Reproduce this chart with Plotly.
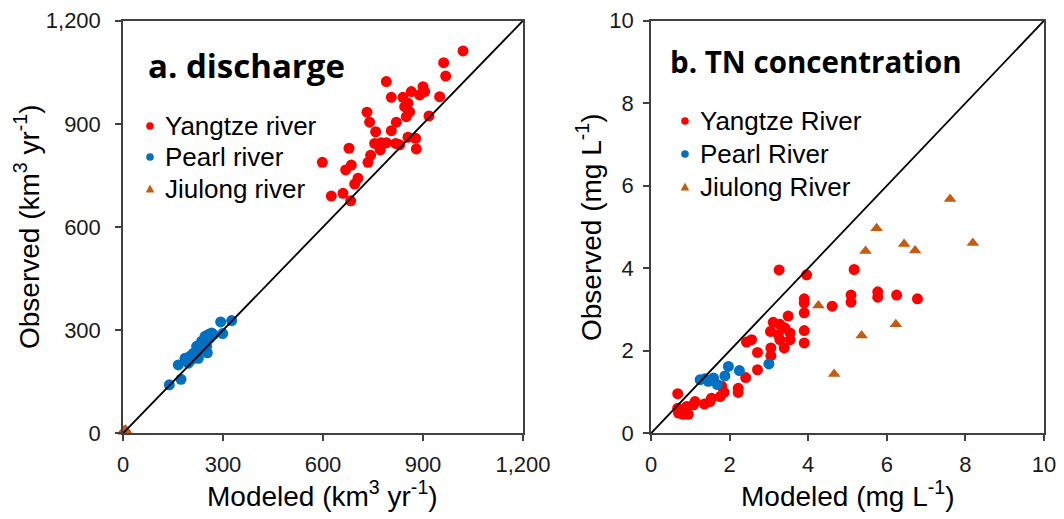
import plotly.graph_objects as go

W, H = 1064, 519

# ---------------- Data ----------------
# Panel a: discharge (km3/yr), modeled vs observed
yangtze_q_mod = [1020, 962, 968, 790, 900, 905, 890, 865, 950, 805, 840, 855, 860, 850, 918,
                 732, 740, 820, 758, 805, 755, 790, 818, 830, 855, 878, 880, 772, 743, 735,
                 678, 598, 685, 668, 705, 695, 660, 625, 683, 845, 775]
yangtze_q_obs = [1112, 1078, 1039, 1023, 1008, 994, 984, 994, 979, 977, 977, 960, 935, 921, 923,
                 934, 905, 905, 877, 880, 843, 845, 843, 839, 861, 858, 827, 824, 809, 788,
                 829, 788, 780, 766, 742, 725, 698, 690, 676, 950, 845]
pearl_q_mod = [139, 174, 166, 186, 196, 211, 226, 221, 236, 246, 256, 266, 253, 251, 293, 326,
               299, 201, 231, 241, 261, 206, 271]
pearl_q_obs = [141, 157, 199, 218, 204, 233, 218, 253, 268, 282, 287, 292, 234, 253, 324, 328,
               290, 224, 244, 258, 277, 214, 287]
jiulong_q_mod = [3, 5, 8, 2, 10]
jiulong_q_obs = [10, 5, 12, 3, 8]

# Panel b: TN concentration (mg/L)
yangtze_tn_mod = [3.26, 3.96, 5.17, 3.90, 3.90, 3.90, 3.90, 3.90, 4.61, 5.09, 5.09, 5.77, 5.77,
                  6.25, 6.78, 3.49, 3.11, 3.28, 3.41, 3.54, 3.04, 3.24, 3.28, 3.54, 3.39, 3.05,
                  3.05, 2.43, 2.56, 2.71, 2.71, 2.41, 2.22, 2.22, 1.80, 1.86, 1.76, 1.54, 1.50,
                  1.36, 1.12, 1.08, 0.91, 0.74, 0.70, 0.82, 0.95, 0.68, 0.68]
yangtze_tn_obs = [3.96, 3.84, 3.97, 3.26, 3.16, 2.92, 2.49, 2.19, 3.08, 3.35, 3.18, 3.43, 3.30,
                  3.35, 3.26, 2.84, 2.69, 2.64, 2.55, 2.43, 2.47, 2.39, 2.27, 2.27, 2.07, 2.07,
                  1.88, 2.21, 2.27, 1.96, 1.54, 1.35, 1.09, 0.99, 1.14, 0.99, 0.89, 0.85, 0.77,
                  0.71, 0.77, 0.69, 0.65, 0.57, 0.49, 0.46, 0.46, 0.96, 0.61]
pearl_tn_mod = [1.25, 1.37, 1.59, 1.69, 1.88, 1.97, 2.25, 3.00, 1.46]
pearl_tn_obs = [1.30, 1.32, 1.34, 1.18, 1.39, 1.62, 1.52, 1.68, 1.26]
jiulong_tn_mod = [4.26, 4.66, 5.36, 6.23, 5.46, 6.72, 7.61, 5.74, 6.44, 8.19]
jiulong_tn_obs = [3.10, 1.44, 2.37, 2.64, 4.42, 4.43, 5.68, 4.97, 4.59, 4.61]

q_range = [0, 1200]
q_ticks = [0, 300, 600, 900, 1200]
q_ticktext = ["0", "300", "600", "900", "1,200"]
tn_range = [0, 10]
tn_ticks = [0, 2, 4, 6, 8, 10]

RED = "#FF0000"
BLUE = "#0070C0"
BROWN = "#C55A11"
AXC = "#404040"
TXT = "#1a1a1a"
FONT = "Liberation Sans, Arial, sans-serif"

fig = go.Figure()

def add_series(x, y, xa, ya, color, symbol, size):
    fig.add_trace(go.Scatter(x=x, y=y, xaxis=xa, yaxis=ya, mode="markers",
                             marker=dict(color=color, size=size, symbol=symbol, line=dict(width=0)),
                             cliponaxis=False, showlegend=False, hoverinfo="x+y"))

# Panel a
add_series(yangtze_q_mod, yangtze_q_obs, "x", "y", RED, "circle", 11)
add_series(pearl_q_mod, pearl_q_obs, "x", "y", BLUE, "circle", 11)
add_series(jiulong_q_mod, jiulong_q_obs, "x", "y", BROWN, "triangle-up", 10)
fig.add_trace(go.Scatter(x=q_range, y=q_range, xaxis="x", yaxis="y", mode="lines",
                         line=dict(color="black", width=1.8), showlegend=False, hoverinfo="skip"))
# Panel b
add_series(yangtze_tn_mod, yangtze_tn_obs, "x2", "y2", RED, "circle", 11)
add_series(pearl_tn_mod, pearl_tn_obs, "x2", "y2", BLUE, "circle", 11)
add_series(jiulong_tn_mod, jiulong_tn_obs, "x2", "y2", BROWN, "triangle-up", 11)
fig.add_trace(go.Scatter(x=tn_range, y=tn_range, xaxis="x2", yaxis="y2", mode="lines",
                         line=dict(color="black", width=1.8), showlegend=False, hoverinfo="skip"))

def px(xp):
    return xp / W

def py(yp):
    return 1 - yp / H

axis_common = dict(showgrid=False, zeroline=False, showline=True, linecolor=AXC, linewidth=1.5,
                   mirror=True, ticks="outside", ticklen=6, tickwidth=1.5, tickcolor=AXC,
                   automargin=False,
                   tickfont=dict(family=FONT, size=22, color=TXT))

fig.update_layout(
    template="none",
    width=W, height=H, margin=dict(l=0, r=0, t=0, b=0, pad=0),
    paper_bgcolor="white", plot_bgcolor="white", showlegend=False,
    xaxis=dict(domain=[px(123), px(523)], range=q_range, tickvals=q_ticks, ticktext=q_ticktext,
               anchor="y", ticklabelstandoff=5, **axis_common),
    yaxis=dict(domain=[py(433.3), py(20.7)], range=q_range, tickvals=q_ticks, ticktext=q_ticktext,
               anchor="x", ticklabelstandoff=10, **axis_common),
    xaxis2=dict(domain=[px(651), px(1044)], range=tn_range, tickvals=tn_ticks,
                anchor="y2", ticklabelstandoff=5, **axis_common),
    yaxis2=dict(domain=[py(433.3), py(20.7)], range=tn_range, tickvals=tn_ticks,
                anchor="x2", ticklabelstandoff=5, **axis_common),
)

ann = []
def text(x, y, s, size, bold=False, angle=0, xanchor="center", family=FONT):
    ann.append(dict(x=px(x), y=py(y), xref="paper", yref="paper", text=s, showarrow=False,
                    textangle=angle, xanchor=xanchor, yanchor="middle",
                    font=dict(family=family, size=size, color="black")))

# Axis titles
text(322, 494, "Modeled (km<sup>3</sup> yr<sup>-1</sup>)", 28)
text(848, 494, "Modeled (mg L<sup>-1</sup>)", 28)
text(27, 227, "Observed (km<sup>3</sup> yr<sup>-1</sup>)", 28, angle=-90)
text(589, 227, "Observed (mg L<sup>-1</sup>)", 28, angle=-90)
# Panel titles
text(146, 65, "<b>a. discharge</b>", 33, xanchor="left", family="Open Sans, sans-serif")
text(668, 62, "<b>b. TN concentration</b>", 29.5, xanchor="left", family="Open Sans, sans-serif")

# Legends
leg_a = ["Yangtze river", "Pearl river", "Jiulong river"]
leg_b = ["Yangtze River", "Pearl River", "Jiulong River"]
leg_colors = [RED, BLUE, BROWN]
leg_a_y = [126, 157, 189]
leg_b_y = [121, 154, 187]

shapes = []
def legend_key(x, y, color, kind):
    if kind == "circle":
        shapes.append(dict(type="circle", xref="paper", yref="paper", xsizemode="pixel",
                           ysizemode="pixel", xanchor=px(x), yanchor=py(y),
                           x0=-3.8, x1=3.8, y0=-3.8, y1=3.8,
                           fillcolor=color, line=dict(width=0)))
    else:
        shapes.append(dict(type="path", xref="paper", yref="paper", xsizemode="pixel",
                           ysizemode="pixel", xanchor=px(x), yanchor=py(y),
                           path="M -4.3,-3.6 L 4.3,-3.6 L 0,4.4 Z",
                           fillcolor=color, line=dict(width=0)))

for i, (la, lb) in enumerate(zip(leg_a, leg_b)):
    kind = "triangle" if i == 2 else "circle"
    legend_key(150, leg_a_y[i], leg_colors[i], kind)
    text(163, leg_a_y[i], la, 26, xanchor="left")
    legend_key(685, leg_b_y[i], leg_colors[i], kind)
    text(698, leg_b_y[i], lb, 26, xanchor="left")

fig.update_layout(annotations=ann, shapes=shapes)

fig.write_html("out.html")
